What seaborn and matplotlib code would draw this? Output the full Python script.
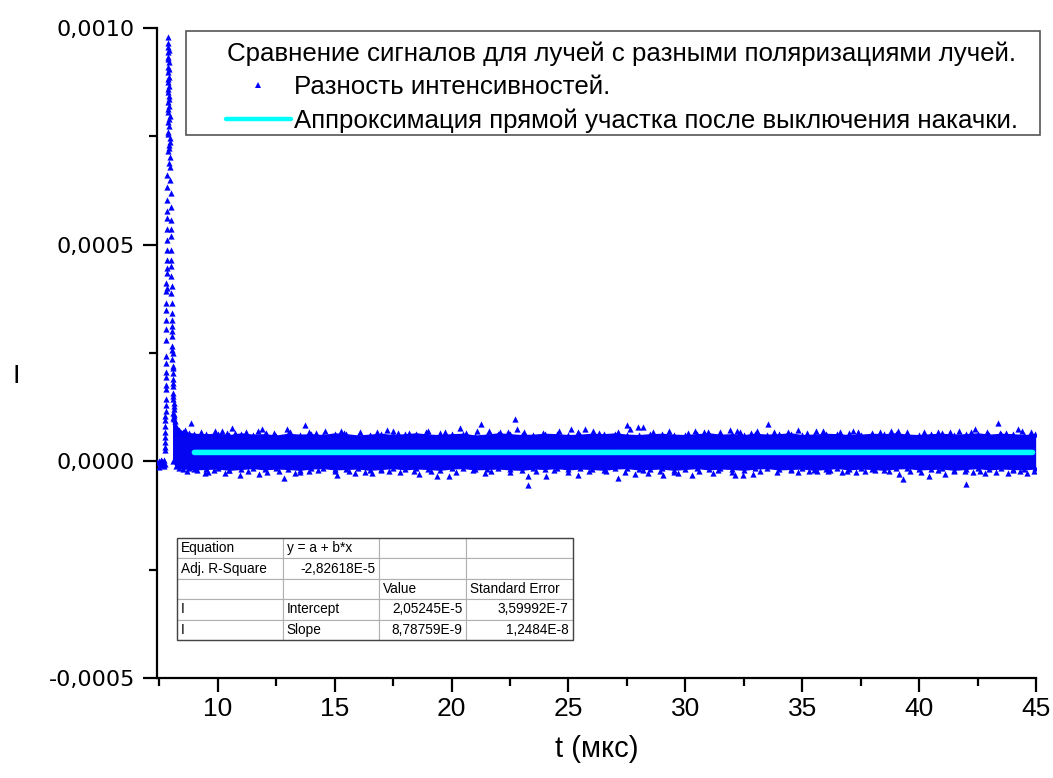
import numpy as np
import pandas as pd
import matplotlib
matplotlib.use("Agg")
import matplotlib.pyplot as plt
import seaborn as sns
from matplotlib.ticker import MultipleLocator, FuncFormatter
from matplotlib.lines import Line2D

# ---------------- data ----------------
# baseline before the pump pulse
pre_t = [7.42, 7.47, 7.52, 7.56, 7.60, 7.64, 7.68, 7.71, 7.73, 7.50, 7.58, 7.66]
pre_y = [-0.2e-5, 0.1e-5, -0.5e-5, -0.9e-5, 0.0, -0.3e-5, -1.0e-5, 0.2e-5, -0.6e-5,
         -1.2e-5, 0.4e-5, -0.7e-5]

# rising edge of the peak (x1e-4)
rise_t = [7.74, 7.75, 7.75, 7.76, 7.76, 7.77, 7.77, 7.78, 7.78, 7.78,
          7.79, 7.79, 7.79, 7.80, 7.80, 7.80, 7.81, 7.81, 7.81, 7.82,
          7.82, 7.82, 7.83, 7.83, 7.83, 7.84,
          7.75, 7.76, 7.77, 7.78, 7.79, 7.80, 7.81, 7.82, 7.76, 7.78]
rise_y = [0.44, 0.55, 0.67, 0.81, 1.04, 1.15, 1.43, 1.66, 1.77, 2.28,
          2.42, 2.81, 3.27, 3.66, 3.92, 4.12, 4.35, 4.65, 4.88, 5.11,
          5.35, 5.61, 5.77, 6.04, 6.34, 6.60,
          0.25, 0.95, 1.30, 2.05, 3.05, 3.50, 4.00, 4.45, 0.33, 1.95]

# top of the peak (x1e-4)
top_t = [7.87, 7.86, 7.89, 7.85, 7.88, 7.91, 7.86, 7.89, 7.92, 7.87,
         7.90, 7.85, 7.93, 7.88, 7.91, 7.86, 7.94, 7.89, 7.92, 7.87,
         7.95, 7.90, 7.93, 7.88, 7.96, 7.91, 7.94,
         7.90, 7.87, 7.92, 7.86, 7.89, 7.93, 7.88, 7.91, 7.85, 7.94]
top_y = [9.80, 9.65, 9.57, 9.45, 9.34, 9.22, 9.11, 8.99, 8.88, 8.76,
         8.65, 8.53, 8.42, 8.30, 8.19, 8.07, 7.96, 7.84, 7.73, 7.61,
         7.46, 7.30, 7.23, 7.15, 7.03, 6.88, 6.80,
         9.50, 9.28, 9.05, 8.82, 8.60, 8.36, 8.12, 7.90, 7.55, 7.38]

# decay after the pump is switched off (x1e-4)
decay_t = [7.97, 7.98, 7.99, 7.98, 8.00, 7.99, 8.01, 8.00, 8.02, 8.01,
           8.03, 8.02, 8.04, 8.03, 8.05, 8.04, 8.06, 8.05, 8.07, 8.06,
           8.08, 8.07, 8.09, 8.08, 8.10, 8.09, 8.11, 8.10, 8.12,
           8.04, 8.06, 8.07, 8.09, 8.10, 8.11, 8.12, 8.13, 8.14, 8.15]
decay_y = [6.50, 6.19, 5.88, 5.58, 5.35, 5.19, 4.88, 4.65, 4.50, 4.27,
           4.04, 3.89, 3.66, 3.43, 3.27, 3.12, 2.89, 2.66, 2.50, 2.35,
           2.20, 2.04, 1.89, 1.74, 1.58, 1.43, 1.27, 1.12, 0.97,
           3.00, 2.58, 2.15, 1.80, 1.50, 1.35, 1.20, 1.05, 1.10, 0.92]

# dense noise band: upper / lower envelope (x1e-5)
band_t = [8.10, 8.20, 8.35, 8.50, 8.75, 9.0, 9.5, 10.0, 10.5, 11.0,
          11.5, 12.0, 12.5, 13.0, 13.5, 14.0, 14.5, 15.0, 15.5, 16.0,
          16.5, 17.0, 17.5, 18.0, 18.5, 19.0, 19.5, 20.0, 20.5, 21.0,
          21.5, 22.0, 22.5, 23.0, 23.5, 24.0, 24.5, 25.0, 25.5, 26.0,
          26.5, 27.0, 27.5, 28.0, 28.5, 29.0, 29.5, 30.0, 30.5, 31.0,
          31.5, 32.0, 32.5, 33.0, 33.5, 34.0, 34.5, 35.0, 35.5, 36.0,
          36.5, 37.0, 37.5, 38.0, 38.5, 39.0, 39.5, 40.0, 40.5, 41.0,
          41.5, 42.0, 42.5, 43.0, 43.5, 44.0, 44.5, 44.95]
band_hi = [10.0, 8.2, 7.3, 6.8, 6.5, 6.3, 6.2, 6.3, 6.0, 6.4,
           6.1, 6.2, 5.9, 6.3, 6.1, 6.2, 6.0, 6.4, 6.2, 5.9,
           6.1, 6.3, 6.0, 6.2, 6.4, 6.1, 6.0, 6.2, 6.3, 5.9,
           6.1, 6.4, 6.2, 6.0, 6.1, 6.3, 6.2, 6.0, 6.1, 6.3,
           6.2, 6.4, 6.1, 6.0, 6.2, 6.3, 6.1, 6.0, 6.2, 6.4,
           6.1, 6.2, 6.0, 6.3, 6.1, 6.2, 6.4, 6.0, 6.1, 6.3,
           6.2, 6.0, 6.1, 6.3, 6.2, 6.4, 6.1, 6.0, 6.2, 6.3,
           6.1, 6.2, 6.4, 6.1, 6.3, 6.2, 6.0, 6.2]
band_lo = [0.0, -1.0, -1.5, -1.7, -1.6, -1.8, -1.7, -1.6, -1.9, -1.7,
           -1.5, -1.8, -1.6, -1.7, -1.9, -1.6, -1.5, -1.8, -1.7, -1.6,
           -1.9, -1.7, -1.5, -1.8, -1.6, -1.7, -1.9, -1.6, -1.5, -1.8,
           -1.7, -1.6, -1.8, -1.9, -1.6, -1.7, -1.5, -1.8, -1.6, -1.7,
           -1.9, -1.6, -1.5, -1.8, -1.7, -1.6, -1.9, -1.7, -1.5, -1.8,
           -1.6, -1.7, -1.9, -1.6, -1.5, -1.8, -1.7, -1.6, -1.9, -1.7,
           -1.5, -1.8, -1.6, -1.7, -1.9, -1.6, -1.5, -1.8, -1.7, -1.6,
           -1.9, -1.7, -1.5, -1.8, -1.6, -1.7, -1.8, -1.6]

# points on the fuzzy edge of the band (x1e-5)
edge_hi_t = [8.6, 9.3, 9.9, 10.4, 11.2, 11.7, 12.4, 13.1, 13.9, 14.6,
             15.4, 16.1, 16.8, 17.5, 18.2, 18.9, 19.7, 20.6, 21.6, 22.4,
             23.1, 23.9, 24.6, 25.4, 26.3, 27.1, 28.6, 29.3, 30.1, 30.8,
             31.5, 32.2, 32.8, 33.8, 34.4, 35.2, 35.9, 36.6, 37.4, 38.0,
             38.8, 39.5, 40.2, 41.0, 41.7, 42.2, 42.9, 43.7, 44.4, 44.8]
edge_hi_y = [7.2, 6.7, 6.9, 6.6, 6.8, 7.0, 6.6, 6.8, 6.7, 6.9,
             6.6, 6.8, 6.7, 6.9, 6.6, 6.8, 6.7, 6.6, 6.9, 6.7,
             6.8, 6.6, 6.9, 6.7, 6.6, 6.8, 6.7, 6.9, 6.6, 6.8,
             6.7, 6.9, 6.6, 6.8, 6.7, 6.6, 6.9, 6.7, 6.8, 6.6,
             6.9, 6.7, 6.8, 6.6, 6.9, 6.7, 6.8, 6.6, 6.9, 6.7]
edge_lo_t = [8.7, 9.6, 10.5, 11.3, 12.1, 12.6, 13.5, 14.3, 15.0, 15.6,
             16.3, 17.0, 17.8, 18.4, 19.1, 20.2, 20.9, 21.7, 22.5, 23.6,
             24.4, 25.0, 25.9, 26.6, 27.4, 28.2, 28.9, 29.5, 30.6, 31.4,
             32.0, 33.2, 33.9, 34.5, 35.3, 36.1, 36.7, 37.3, 38.1, 38.7,
             39.6, 40.1, 40.8, 41.5, 42.3, 42.6, 43.3, 44.0, 44.3, 44.9]
edge_lo_y = [-2.2, -2.4, -2.1, -2.3, -2.5, -2.2, -2.4, -2.1, -2.3, -2.2,
             -2.4, -2.1, -2.5, -2.2, -2.3, -2.4, -2.1, -2.2, -2.5, -2.3,
             -2.1, -2.4, -2.2, -2.3, -2.5, -2.1, -2.2, -2.4, -2.3, -2.1,
             -2.5, -2.2, -2.4, -2.1, -2.3, -2.2, -2.4, -2.5, -2.1, -2.3,
             -2.2, -2.4, -2.1, -2.3, -2.5, -2.2, -2.4, -2.1, -2.3, -2.2]

# sparse points outside the dense band (x1e-5)
out_t = [8.87, 10.61, 10.73, 11.91, 12.08, 12.98, 13.72, 14.22, 10.16,
         9.13, 9.44, 9.84, 10.30, 10.94, 11.75, 12.82, 13.29, 13.89,
         15.26, 17.22, 19.0, 20.36, 21.28, 21.07, 22.07, 17.71, 19.5,
         15.11, 15.86, 16.58, 17.33, 18.61, 19.36, 19.9, 21.43,
         22.71, 22.78, 25.13, 25.7, 27.49, 27.99, 28.2, 26.06, 27.63,
         23.25, 23.28, 24.06, 25.42, 27.13, 27.84, 29.05, 29.7, 28.41,
         33.52, 30.41, 31.91, 33.05, 34.83, 35.59, 37.16, 30.98, 32.34, 37.0,
         30.27, 31.19, 32.12, 32.45, 34.83, 35.62, 36.9, 32.88, 36.19,
         43.39, 42.39, 44.24, 39.11, 38.33, 40.82, 41.32, 43.46,
         39.33, 39.15, 40.42, 42.0, 37.69, 41.11, 42.82, 43.82, 44.6, 41.96]
out_y = [8.76, 7.76, 6.6, 7.5, 6.6, 7.4, 8.3, 6.6, 7.0,
         -2.0, -2.8, -2.1, -2.6, -3.2, -3.0, -3.9, -2.6, -2.2,
         7.1, 7.2, 7.0, 7.8, 8.5, 7.0, 6.8, 6.6, 6.5,
         -3.2, -2.6, -2.8, -2.3, -3.0, -3.5, -3.4, -2.6,
         9.8, 7.4, 7.4, 7.5, 8.3, 8.0, 8.0, 7.0, 7.5,
         -5.5, -3.4, -3.4, -3.2, -3.8, -3.0, -3.2, -2.8, -2.8,
         8.5, 7.0, 7.2, 7.0, 7.2, 7.1, 7.1, 6.8, 6.8, 6.6,
         -3.2, -2.8, -3.2, -3.2, -2.5, -2.2, -2.2, -3.0, -2.0,
         8.9, 7.5, 7.5, 7.0, 6.8, 6.8, 6.8, 6.6,
         -4.1, -3.0, -3.4, -5.3, -2.2, -3.0, -2.6, -2.8, -2.6, -2.2]

# linear fit y = a + b*x after pump switch-off
fit_t = [9.0, 44.85]
fit_y = [2.0532e-5, 2.0564e-5]

table_rows = [
    ["Equation", "y = a + b*x", "", ""],
    ["Adj. R-Square", "-2,82618E-5", "", ""],
    ["", "", "Value", "Standard Error"],
    ["I", "Intercept", "2,05245E-5", "3,59992E-7"],
    ["I", "Slope", "8,78759E-9", "1,2484E-8"],
]

legend_title = "Сравнение сигналов для лучей с разными поляризациями лучей."
label_points = "Разность интенсивностей."
label_fit = "Аппроксимация прямой участка после выключения накачки."
x_label = "t (мкс)"
y_label = "I"

# ---------------- build frames ----------------
scat = pd.DataFrame({
    "t": pre_t + rise_t + top_t + decay_t + out_t + edge_hi_t + edge_lo_t,
    "I": (pre_y
          + [v * 1e-4 for v in rise_y]
          + [v * 1e-4 for v in top_y]
          + [v * 1e-4 for v in decay_y]
          + [v * 1e-5 for v in out_y]
          + [v * 1e-5 for v in edge_hi_y]
          + [v * 1e-5 for v in edge_lo_y]),
})
band = pd.DataFrame({"t": band_t,
                     "hi": [v * 1e-5 for v in band_hi],
                     "lo": [v * 1e-5 for v in band_lo]})
fit = pd.DataFrame({"t": fit_t, "I": fit_y})

# ---------------- plot ----------------
sns.set_style("ticks")
plt.rcParams["font.family"] = ["Liberation Sans", "DejaVu Sans"]
for k in ["text.color", "axes.labelcolor", "xtick.color", "ytick.color"]:
    plt.rcParams[k] = "black"

BLUE = "#0000ff"
fig = plt.figure(figsize=(10.53, 7.78), dpi=100)
ax = fig.add_axes([157 / 1053, 1 - 678 / 778, (1036 - 157) / 1053, (678 - 28) / 778])

ax.fill_between(band["t"], band["lo"], band["hi"], color="#0505f2",
                edgecolor="#0505f2", linewidth=1.2, zorder=2)
sns.scatterplot(data=band, x="t", y="hi", marker="^", s=20, color=BLUE,
                linewidth=0, ax=ax, zorder=3, legend=False)
sns.scatterplot(data=band, x="t", y="lo", marker="^", s=20, color=BLUE,
                linewidth=0, ax=ax, zorder=3, legend=False)
sns.scatterplot(data=scat, x="t", y="I", marker="^", s=20, color=BLUE,
                linewidth=0, ax=ax, zorder=3, legend=False)
sns.lineplot(data=fit, x="t", y="I", color="#00ffff", linewidth=4,
             ax=ax, zorder=4, legend=False)

ax.set_xlim(7.4, 45)
ax.set_ylim(-0.0005, 0.001)
ax.xaxis.set_major_locator(MultipleLocator(5))
ax.xaxis.set_minor_locator(MultipleLocator(2.5))
ax.yaxis.set_major_locator(MultipleLocator(0.0005))
ax.yaxis.set_minor_locator(MultipleLocator(0.00025))
ax.xaxis.set_major_formatter(FuncFormatter(lambda v, p: f"{v:.0f}"))
ax.yaxis.set_major_formatter(FuncFormatter(lambda v, p: f"{v:.4f}".replace(".", ",")))

for s in ["top", "right"]:
    ax.spines[s].set_visible(False)
for s in ["left", "bottom"]:
    ax.spines[s].set_linewidth(1.6)
    ax.spines[s].set_color("black")
ax.tick_params(which="major", direction="out", length=10, width=1.6, colors="black")
ax.tick_params(which="minor", direction="out", length=6, width=1.6, colors="black")
ax.tick_params(axis="x", which="major", labelsize=19, pad=4)
ax.tick_params(axis="y", which="major", labelsize=16, pad=6)
for lab in ax.get_yticklabels():
    lab.set_fontfamily(["DejaVu Sans"])

ax.set_xlabel(x_label, fontsize=21, labelpad=10)
ax.set_ylabel(y_label, fontsize=18, rotation=0, labelpad=0, va="center",
              fontfamily=["DejaVu Sans"])
ax.yaxis.set_label_coords(-0.16, (678 - 376) / 650)

# legend: frame drawn separately, contents placed like the original
frame = plt.Rectangle((186 / 1053, 1 - 135 / 778), (1040 - 186) / 1053,
                      (135 - 31) / 778, transform=fig.transFigure,
                      fill=True, facecolor="white", edgecolor="#555555",
                      linewidth=1.2, zorder=9, clip_on=False)
ax.add_artist(frame)
handles = [Line2D([], [], linestyle="none", marker="^", markersize=4.5,
                  color=BLUE, markeredgewidth=0),
           Line2D([], [], color="#00ffff", linewidth=3.2)]
leg = ax.legend(handles, [label_points, label_fit], title=legend_title,
                loc="upper left", bbox_to_anchor=(226 / 1053, 1 - 41 / 778),
                bbox_transform=fig.transFigure, borderaxespad=0,
                fontsize=18.6, title_fontsize=18.6, frameon=False,
                handlelength=2.5, handletextpad=0.12, labelspacing=0.37,
                borderpad=0.0)
leg.set_zorder(10)
leg._legend_box.sep = 7

# fit-results table
x0 = (177 - 157) / 879
w = (573 - 177) / 879
y0 = (678 - 640) / 650
h = (640 - 538) / 650
tbl = ax.table(cellText=table_rows, bbox=[x0, y0, w, h],
               colWidths=[106, 96, 87, 107], cellLoc="left")
tbl.auto_set_font_size(False)
tbl.set_fontsize(9.8)
right_cells = {(1, 1), (3, 2), (3, 3), (4, 2), (4, 3)}
for (r, c), cell in tbl.get_celld().items():
    cell.set_edgecolor("#b0b0b0")
    cell.set_linewidth(0.8)
    cell.set_facecolor("white")
    cell.get_text().set_fontfamily(["Liberation Sans", "DejaVu Sans"])
    if (r, c) in right_cells:
        cell._loc = "right"
        cell.get_text().set_horizontalalignment("right")
    cell.PAD = 0.04
tbl.set_zorder(10)
ax.add_patch(plt.Rectangle((x0, y0), w, h, transform=ax.transAxes, fill=False,
                           edgecolor="#444444", linewidth=1.0, zorder=11))

fig.savefig("out.png", dpi=100)
